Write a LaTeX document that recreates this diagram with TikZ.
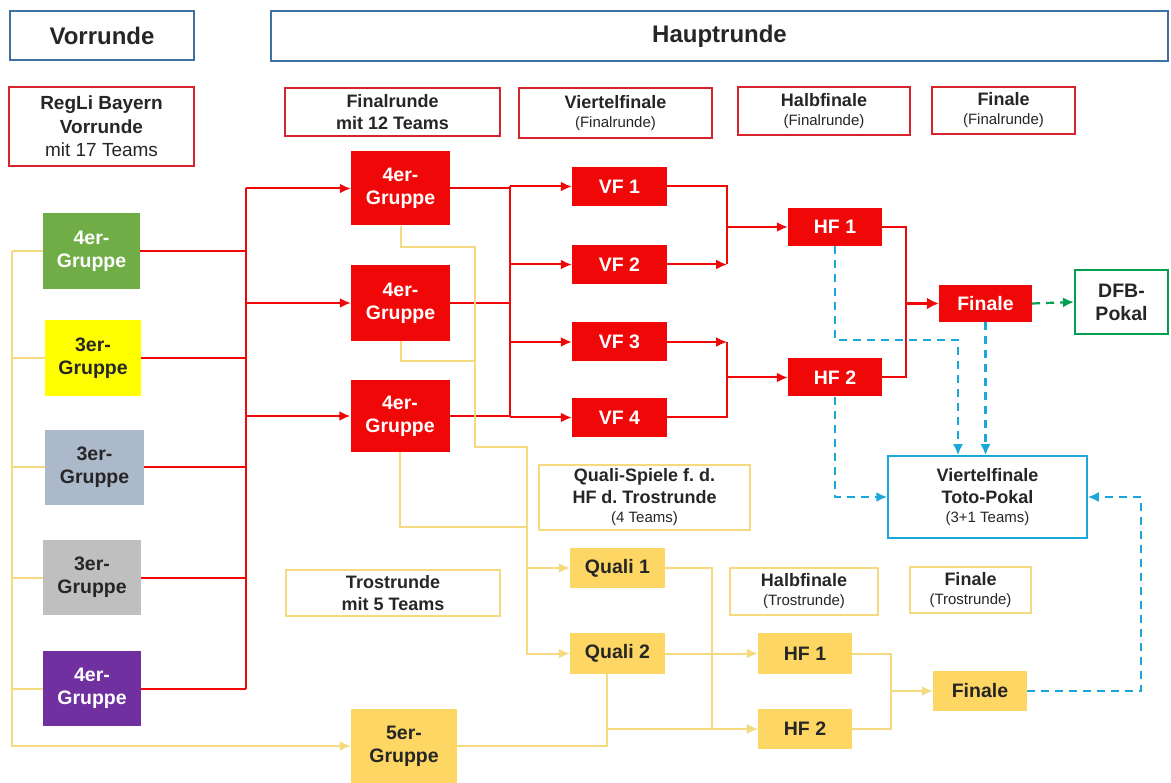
\documentclass[tikz,border=0pt]{standalone}
\usepackage{fontspec}
\setmainfont{Liberation Sans}
\usetikzlibrary{calc,arrows.meta}
\frenchspacing

\definecolor{rred}{RGB}{240,8,8}
\definecolor{lblred}{RGB}{214,36,44}
\definecolor{gold}{RGB}{253,214,100}
\definecolor{goldline}{RGB}{246,218,128}
\definecolor{tblue}{RGB}{24,168,218}
\definecolor{hdrblue}{RGB}{62,112,160}
\definecolor{dfbgreen}{RGB}{0,160,80}
\definecolor{grpgreen}{RGB}{112,173,71}
\definecolor{grpyellow}{RGB}{255,255,0}
\definecolor{grpblue}{RGB}{172,185,202}
\definecolor{grpgray}{RGB}{191,191,191}
\definecolor{grppurple}{RGB}{112,48,160}

\newcommand{\subtxt}[1]{{\fontsize{15}{17}\selectfont\mdseries #1}}

\tikzset{
  hdr/.style={draw=hdrblue, line width=1.5pt, inner sep=0pt, align=center,
    font=\fontsize{24}{28}\selectfont\bfseries, text=black!85},
  lbl/.style={draw=lblred, line width=1.5pt, inner sep=0pt, align=center,
    font=\fontsize{18}{22}\selectfont\bfseries, text=black!85},
  tlbl/.style={lbl, draw=goldline},
  grp/.style={inner sep=0pt, align=center, text=white,
    font=\fontsize{19.5}{23}\selectfont\bfseries},
  rgrp/.style={grp, fill=rred},
  ygrp/.style={grp, fill=gold, text=black!85},
  arr/.style={-{Latex[length=11pt,width=10pt]}},
  rline/.style={draw=rred, line width=2pt},
  yline/.style={draw=goldline, line width=2pt},
  bline/.style={draw=tblue, line width=2.2pt, dash pattern=on 8pt off 6pt},
  gline/.style={draw=dfbgreen, line width=2.2pt, dash pattern=on 8pt off 6pt}
}

\begin{document}
\begin{tikzpicture}[x=1pt,y=-1pt]
\useasboundingbox[fill=white] (0,0) rectangle (1171,783);

% headers and labels
\node[hdr, minimum width=184pt, minimum height=49pt] (hdrV) at (102,35.5) {Vorrunde};
\node[hdr, minimum width=897pt, minimum height=50pt] (hdrH) at (719.5,36) {Hauptrunde};
\node[lbl, minimum width=185pt, minimum height=79pt, font=\fontsize{19}{23.5}\selectfont\bfseries] (lblRegLi) at (101.5,126.5)
  {RegLi Bayern\\Vorrunde\\\mdseries mit 17 Teams};
\node[lbl, minimum width=215pt, minimum height=48pt] (lblFR) at (392.5,112) {Finalrunde\\mit 12 Teams};
\node[lbl, minimum width=193pt, minimum height=50pt] (lblVF) at (615.5,113) {Viertelfinale\\[-3pt]\subtxt{(Finalrunde)}};
\node[lbl, minimum width=172pt, minimum height=48pt] (lblHF) at (824,111) {Halbfinale\\[-3pt]\subtxt{(Finalrunde)}};
\node[lbl, minimum width=143pt, minimum height=47pt] (lblF) at (1003.5,110.5) {Finale\\[-3pt]\subtxt{(Finalrunde)}};
\node[tlbl, minimum width=211pt, minimum height=65pt] (lblQS) at (644.5,497.5)
  {Quali-Spiele f. d.\\HF d. Trostrunde\\[-3pt]\subtxt{(4 Teams)}};
\node[tlbl, minimum width=214pt, minimum height=46pt] (lblTR) at (393,593) {Trostrunde\\mit 5 Teams};
\node[tlbl, minimum width=148pt, minimum height=47pt] (lblHFT) at (804,591.5) {Halbfinale\\[-3pt]\subtxt{(Trostrunde)}};
\node[tlbl, minimum width=121pt, minimum height=46pt] (lblFT) at (970.5,590) {Finale\\[-3pt]\subtxt{(Trostrunde)}};

% Vorrunde groups
\node[grp, fill=grpgreen, minimum width=97pt, minimum height=76pt] (vg1) at (91.5,251.5) {4er-\\Gruppe};
\node[grp, fill=grpyellow, text=black!85, minimum width=96pt, minimum height=76pt] (vg2) at (93,358) {3er-\\Gruppe};
\node[grp, fill=grpblue, text=black!85, minimum width=99pt, minimum height=75pt] (vg3) at (94.5,467.5) {3er-\\Gruppe};
\node[grp, fill=grpgray, text=black!85, minimum width=98pt, minimum height=75pt] (vg4) at (92,577.5) {3er-\\Gruppe};
\node[grp, fill=grppurple, minimum width=98pt, minimum height=75pt] (vg5) at (92,688.5) {4er-\\Gruppe};

% Finalrunde
\node[rgrp, minimum width=99pt, minimum height=74pt] (fg1) at (400.5,188.5) {4er-\\Gruppe};
\node[rgrp, minimum width=99pt, minimum height=76pt] (fg2) at (400.5,303) {4er-\\Gruppe};
\node[rgrp, minimum width=99pt, minimum height=72pt] (fg3) at (400,416) {4er-\\Gruppe};
\node[rgrp, minimum width=95pt, minimum height=39pt] (vf1) at (619.5,186.5) {VF 1};
\node[rgrp, minimum width=95pt, minimum height=39pt] (vf2) at (619.5,264.5) {VF 2};
\node[rgrp, minimum width=95pt, minimum height=39pt] (vf3) at (619.5,342) {VF 3};
\node[rgrp, minimum width=95pt, minimum height=39pt] (vf4) at (619.5,417.5) {VF 4};
\node[rgrp, minimum width=94pt, minimum height=38pt] (hf1) at (835,227) {HF 1};
\node[rgrp, minimum width=94pt, minimum height=38pt] (hf2) at (835,377.5) {HF 2};
\node[rgrp, minimum width=93pt, minimum height=37pt] (fin) at (985.5,303.5) {Finale};
\node[grp, draw=dfbgreen, line width=2pt, text=black!85, minimum width=93pt, minimum height=64pt] (dfb) at (1121.5,302) {DFB-\\Pokal};
\node[lbl, draw=tblue, minimum width=199pt, minimum height=82pt] (toto) at (987.5,497)
  {Viertelfinale\\Toto-Pokal\\[-3pt]\subtxt{(3+1 Teams)}};

% Trostrunde
\node[ygrp, minimum width=95pt, minimum height=40pt] (q1) at (617.5,568) {Quali 1};
\node[ygrp, minimum width=95pt, minimum height=41pt] (q2) at (617.5,653.5) {Quali 2};
\node[ygrp, minimum width=94pt, minimum height=41pt] (thf1) at (805,653.5) {HF 1};
\node[ygrp, minimum width=94pt, minimum height=40pt] (thf2) at (805,729) {HF 2};
\node[ygrp, minimum width=94pt, minimum height=40pt] (tfin) at (980,691) {Finale};
\node[ygrp, minimum width=106pt, minimum height=74pt] (g5) at (404,746) {5er-\\Gruppe};

% red connectors
\coordinate (bL) at (246,0);
\coordinate (bM) at (510,0);
\coordinate (bR) at (727,0);
\coordinate (bF) at (906,0);
\foreach \n in {vg1,vg2,vg3,vg4,vg5}
  \draw[rline] (\n.east) -- (\n.east -| bL);
\draw[rline] (bL |- fg1.west) -- (bL |- vg5.east);
\foreach \n in {fg1,fg2,fg3}
  \draw[rline,arr] (bL |- \n.west) -- (\n.west);
\foreach \n in {fg1,fg2,fg3}
  \draw[rline] (\n.east) -- (\n.east -| bM);
\draw[rline] (bM |- vf1.west) -- (bM |- vf4.west);
\foreach \n in {vf1,vf2,vf3,vf4}
  \draw[rline,arr] (bM |- \n.west) -- (\n.west);
\draw[rline] (vf1.east) -| (bR |- vf2.east);
\draw[rline,arr] (vf2.east) -- (vf2.east -| bR);
\draw[rline,arr] (vf3.east) -- (vf3.east -| bR);
\draw[rline] (vf4.east) -| (bR |- vf3.east);
\draw[rline,arr] (bR |- hf1.west) -- (hf1.west);
\draw[rline,arr] (bR |- hf2.west) -- (hf2.west);
\draw[rline] (hf1.east) -| (bF |- fin.west) |- (hf2.east);
\draw[rline,line width=3.5pt,-{Latex[length=12pt,width=12pt]}] (bF |- fin.west) -- (fin.west);
\draw[gline,arr] (fin.east) -- (dfb.west);

% Toto-Pokal
\coordinate (k1) at (958,340);
\coordinate (k2) at (1141,0);
\draw[bline,arr] (hf1.south) |- (k1) -- (k1 |- toto.north);
\draw[bline,arr] (fin.south) -- (fin.south |- toto.north);
\draw[bline,arr] (hf2.south) |- (toto.west);
\draw[bline,arr] (tfin.east) -| (k2 |- toto.east) -- (toto.east);

% yellow connectors
\coordinate (bY) at (12,0);
\coordinate (y1) at (475,247);
\coordinate (y2) at (527,447);
\coordinate (y4) at (712,0);
\coordinate (y5) at (607,746);
\coordinate (y6) at (891,0);
\foreach \n in {vg1,vg2,vg3,vg4,vg5}
  \draw[yline] (\n.west) -- (\n.west -| bY);
\draw[yline,arr] (bY |- vg1.west) |- (g5.west);
\draw[yline,arr] (fg1.south) |- (y1) |- (y2) |- (q2.west);
\draw[yline] (fg2.south) -- ++(0,20) -| (y1);
\draw[yline] (fg3.south) -- ++(0,75) -| (y2);
\draw[yline,arr] (y2 |- q1.west) -- (q1.west);
\draw[yline,arr] (q1.east) -| (y4 |- thf2.west) -- (thf2.west);
\draw[yline,arr] (q2.east) -- (thf1.west);
\draw[yline] (g5.east) -- (y5) -- (y5 |- q2.south);
\draw[yline,arr] (y5 |- thf2.west) -- (thf2.west);
\draw[yline] (thf1.east) -| (y6 |- thf2.east) -- (thf2.east);
\draw[yline,arr] (y6 |- tfin.west) -- (tfin.west);
\end{tikzpicture}
\end{document}
